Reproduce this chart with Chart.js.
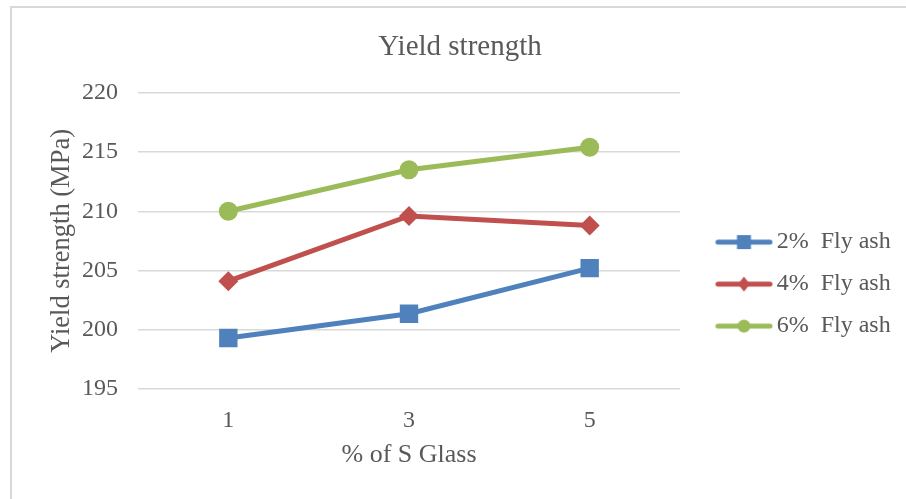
<!DOCTYPE html>
<html>
<head>
<meta charset="utf-8">
<script src="https://cdn.jsdelivr.net/npm/chart.js@4.4.1/dist/chart.umd.min.js"></script>
<style>
  html, body { margin: 0; padding: 0; background: #fff; }
  #wrap { position: relative; width: 906px; height: 499px; }
  #frame {
    position: absolute; left: 10px; top: 6px; right: 0; bottom: 0;
    border-left: 2px solid #d9d9d9; border-top: 2px solid #d9d9d9;
  }
  canvas { position: absolute; left: 0; top: 0; }
</style>
</head>
<body>
<div id="wrap">
  <div id="frame"></div>
  <canvas id="chart" width="906" height="499"></canvas>
</div>
<script>
// data
const categories = ["1", "3", "5"];
const flyAsh2 = [199.3, 201.35, 205.2];
const flyAsh4 = [204.1, 209.6, 208.8];
const flyAsh6 = [210.0, 213.5, 215.4];

const BLUE = "#4f81bd";
const RED = "#c0504d";
const GREEN = "#9bbb59";
const TEXT = "#595959";
const FONT = "'Liberation Serif', 'Times New Roman', serif";

// line + marker swatch for the legend (transparent left margin to place it)
function swatch(color, shape) {
  const c = document.createElement("canvas");
  c.width = 84; c.height = 18;
  const g = c.getContext("2d");
  const a = 26.6, mid = 9, mx = a + 28;
  g.strokeStyle = color;
  g.lineWidth = 5;
  g.lineCap = "round";
  g.beginPath(); g.moveTo(a + 2, mid); g.lineTo(a + 54, mid); g.stroke();
  g.fillStyle = color;
  if (shape === "rect") g.fillRect(mx - 7, mid - 7, 14, 14);
  else if (shape === "diamond") {
    g.beginPath(); g.moveTo(mx, mid - 7.5); g.lineTo(mx + 6, mid); g.lineTo(mx, mid + 7.5); g.lineTo(mx - 6, mid); g.closePath(); g.fill();
  } else {
    g.beginPath(); g.arc(mx, mid, 6.5, 0, Math.PI * 2); g.fill();
  }
  return c;
}

function series(label, data, color, pointStyle, radius, shape) {
  return {
    label, data,
    borderColor: color,
    backgroundColor: color,
    borderWidth: 5,
    pointStyle,
    pointRadius: radius,
    pointHoverRadius: radius,
    pointBorderWidth: 0,
    tension: 0,
    legendSwatch: swatch(color, shape)
  };
}

const ctx = document.getElementById("chart").getContext("2d");
new Chart(ctx, {
  type: "line",
  data: {
    labels: categories,
    datasets: [
      series("2%  Fly ash", flyAsh2, BLUE, "rect", 13, "rect"),
      series("4%  Fly ash", flyAsh4, RED, "rectRot", 10, "diamond"),
      series("6%  Fly ash", flyAsh6, GREEN, "circle", 9.5, "circle")
    ]
  },
  options: {
    responsive: false,
    animation: false,
    layout: { padding: { left: 20, right: 6, top: 30, bottom: 28 } },
    plugins: {
      title: {
        display: true,
        text: "Yield strength",
        color: TEXT,
        font: { family: FONT, size: 29, weight: "normal" },
        padding: { top: 0, bottom: 28 }
      },
      legend: {
        position: "right",
        // empty title only pushes the entries down a bit
        title: { display: true, text: "", font: { size: 1 }, padding: { top: 66, bottom: 0 } },
        labels: {
          usePointStyle: true,
          pointStyleWidth: 66.7,
          color: TEXT,
          padding: 18,
          font: { family: FONT, size: 24 },
          generateLabels: (chart) => chart.data.datasets.map((ds, i) => ({
            text: ds.label,
            fontColor: TEXT,
            pointStyle: ds.legendSwatch,
            datasetIndex: i,
            hidden: false,
            lineWidth: 0,
            strokeStyle: ds.borderColor,
            fillStyle: ds.backgroundColor
          }))
        }
      },
      tooltip: { enabled: false }
    },
    scales: {
      x: {
        offset: true,
        afterFit: (scale) => { scale.height = 82; },
        grid: { display: false, drawTicks: false },
        border: { display: false },
        ticks: { color: TEXT, padding: 17, font: { family: FONT, size: 24 } },
        title: {
          display: true, text: "% of S Glass", color: TEXT,
          font: { family: FONT, size: 26 }, padding: { top: 5, bottom: 0 }
        }
      },
      y: {
        min: 195, max: 220,
        afterFit: (scale) => { scale.width = 118; },
        grid: { color: "#d9d9d9", lineWidth: 1.5, drawTicks: false },
        border: { display: false },
        ticks: { stepSize: 5, color: TEXT, padding: 20, font: { family: FONT, size: 24 } },
        title: {
          display: true, text: "Yield strength (MPa)", color: TEXT,
          font: { family: FONT, size: 26.5 }, padding: { top: 26, bottom: 4 }
        }
      }
    }
  }
});
</script>
</body>
</html>
